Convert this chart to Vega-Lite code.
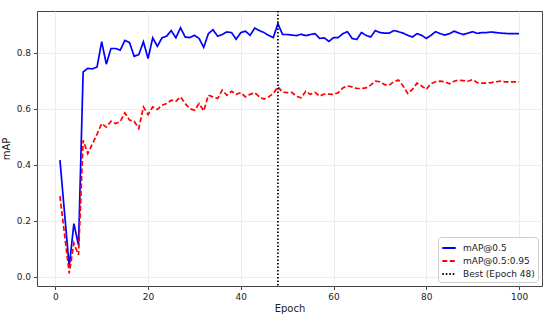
{
  "$schema": "https://vega.github.io/schema/vega-lite/v6.json",
  "width": 505,
  "height": 275,
  "autosize": {"type": "none"},
  "padding": {"left": 37, "top": 11, "right": 8, "bottom": 31},
  "background": "white",
  "config": {
    "font": "DejaVu Sans",
    "view": {"stroke": "#444", "strokeWidth": 1},
    "axis": {"labelFont": "DejaVu Sans", "titleFont": "DejaVu Sans", "labelFontSize": 9, "titleFontSize": 10, "titleFontWeight": "normal", "labelColor": "#222", "titleColor": "#222", "gridColor": "#e8e8e8", "gridWidth": 0.8, "domain": false, "tickColor": "#444", "tickSize": 3.5},
    "legend": {"title": null, "orient": "bottom-right", "offset": 4, "symbolType": "stroke", "symbolStrokeWidth": 1.8, "symbolSize": 180, "labelFontSize": 9, "labelFont": "DejaVu Sans", "labelColor": "#222", "labelOffset": 6, "strokeColor": "#cccccc", "fillColor": "white", "padding": 3, "cornerRadius": 3, "rowPadding": 0}
  },
  "datasets": {
    "curves": [
      {"epoch":1,"s":"mAP@0.5","v":0.417},{"epoch":2,"s":"mAP@0.5","v":0.226},{"epoch":3,"s":"mAP@0.5","v":0.036},{"epoch":4,"s":"mAP@0.5","v":0.19},{"epoch":5,"s":"mAP@0.5","v":0.113},
      {"epoch":6,"s":"mAP@0.5","v":0.732},{"epoch":7,"s":"mAP@0.5","v":0.745},{"epoch":8,"s":"mAP@0.5","v":0.743},{"epoch":9,"s":"mAP@0.5","v":0.75},{"epoch":10,"s":"mAP@0.5","v":0.84},
      {"epoch":11,"s":"mAP@0.5","v":0.76},{"epoch":12,"s":"mAP@0.5","v":0.816},{"epoch":13,"s":"mAP@0.5","v":0.816},{"epoch":14,"s":"mAP@0.5","v":0.81},{"epoch":15,"s":"mAP@0.5","v":0.845},
      {"epoch":16,"s":"mAP@0.5","v":0.837},{"epoch":17,"s":"mAP@0.5","v":0.788},{"epoch":18,"s":"mAP@0.5","v":0.794},{"epoch":19,"s":"mAP@0.5","v":0.84},{"epoch":20,"s":"mAP@0.5","v":0.78},
      {"epoch":21,"s":"mAP@0.5","v":0.854},{"epoch":22,"s":"mAP@0.5","v":0.824},{"epoch":23,"s":"mAP@0.5","v":0.854},{"epoch":24,"s":"mAP@0.5","v":0.86},{"epoch":25,"s":"mAP@0.5","v":0.88},
      {"epoch":26,"s":"mAP@0.5","v":0.854},{"epoch":27,"s":"mAP@0.5","v":0.89},{"epoch":28,"s":"mAP@0.5","v":0.857},{"epoch":29,"s":"mAP@0.5","v":0.855},{"epoch":30,"s":"mAP@0.5","v":0.863},
      {"epoch":31,"s":"mAP@0.5","v":0.852},{"epoch":32,"s":"mAP@0.5","v":0.82},{"epoch":33,"s":"mAP@0.5","v":0.869},{"epoch":34,"s":"mAP@0.5","v":0.883},{"epoch":35,"s":"mAP@0.5","v":0.86},
      {"epoch":36,"s":"mAP@0.5","v":0.866},{"epoch":37,"s":"mAP@0.5","v":0.875},{"epoch":38,"s":"mAP@0.5","v":0.873},{"epoch":39,"s":"mAP@0.5","v":0.849},{"epoch":40,"s":"mAP@0.5","v":0.873},
      {"epoch":41,"s":"mAP@0.5","v":0.878},{"epoch":42,"s":"mAP@0.5","v":0.863},{"epoch":43,"s":"mAP@0.5","v":0.889},{"epoch":44,"s":"mAP@0.5","v":0.88},{"epoch":45,"s":"mAP@0.5","v":0.873},
      {"epoch":46,"s":"mAP@0.5","v":0.863},{"epoch":47,"s":"mAP@0.5","v":0.855},{"epoch":48,"s":"mAP@0.5","v":0.905},{"epoch":49,"s":"mAP@0.5","v":0.866},{"epoch":50,"s":"mAP@0.5","v":0.866},
      {"epoch":51,"s":"mAP@0.5","v":0.864},{"epoch":52,"s":"mAP@0.5","v":0.862},{"epoch":53,"s":"mAP@0.5","v":0.867},{"epoch":54,"s":"mAP@0.5","v":0.862},{"epoch":55,"s":"mAP@0.5","v":0.866},
      {"epoch":56,"s":"mAP@0.5","v":0.869},{"epoch":57,"s":"mAP@0.5","v":0.852},{"epoch":58,"s":"mAP@0.5","v":0.854},{"epoch":59,"s":"mAP@0.5","v":0.841},{"epoch":60,"s":"mAP@0.5","v":0.855},
      {"epoch":61,"s":"mAP@0.5","v":0.855},{"epoch":62,"s":"mAP@0.5","v":0.869},{"epoch":63,"s":"mAP@0.5","v":0.876},{"epoch":64,"s":"mAP@0.5","v":0.852},{"epoch":65,"s":"mAP@0.5","v":0.848},
      {"epoch":66,"s":"mAP@0.5","v":0.873},{"epoch":67,"s":"mAP@0.5","v":0.863},{"epoch":68,"s":"mAP@0.5","v":0.857},{"epoch":69,"s":"mAP@0.5","v":0.88},{"epoch":70,"s":"mAP@0.5","v":0.873},
      {"epoch":71,"s":"mAP@0.5","v":0.871},{"epoch":72,"s":"mAP@0.5","v":0.871},{"epoch":73,"s":"mAP@0.5","v":0.88},{"epoch":74,"s":"mAP@0.5","v":0.876},{"epoch":75,"s":"mAP@0.5","v":0.871},
      {"epoch":76,"s":"mAP@0.5","v":0.863},{"epoch":77,"s":"mAP@0.5","v":0.857},{"epoch":78,"s":"mAP@0.5","v":0.869},{"epoch":79,"s":"mAP@0.5","v":0.863},{"epoch":80,"s":"mAP@0.5","v":0.852},
      {"epoch":81,"s":"mAP@0.5","v":0.863},{"epoch":82,"s":"mAP@0.5","v":0.876},{"epoch":83,"s":"mAP@0.5","v":0.869},{"epoch":84,"s":"mAP@0.5","v":0.864},{"epoch":85,"s":"mAP@0.5","v":0.869},
      {"epoch":86,"s":"mAP@0.5","v":0.878},{"epoch":87,"s":"mAP@0.5","v":0.871},{"epoch":88,"s":"mAP@0.5","v":0.866},{"epoch":89,"s":"mAP@0.5","v":0.871},{"epoch":90,"s":"mAP@0.5","v":0.876},
      {"epoch":91,"s":"mAP@0.5","v":0.87},{"epoch":92,"s":"mAP@0.5","v":0.873},{"epoch":93,"s":"mAP@0.5","v":0.873},{"epoch":94,"s":"mAP@0.5","v":0.875},{"epoch":95,"s":"mAP@0.5","v":0.873},
      {"epoch":96,"s":"mAP@0.5","v":0.871},{"epoch":97,"s":"mAP@0.5","v":0.87},{"epoch":98,"s":"mAP@0.5","v":0.869},{"epoch":99,"s":"mAP@0.5","v":0.869},{"epoch":100,"s":"mAP@0.5","v":0.869},
      {"epoch":1,"s":"mAP@0.5:0.95","v":0.288},{"epoch":2,"s":"mAP@0.5:0.95","v":0.15},{"epoch":3,"s":"mAP@0.5:0.95","v":0.012},{"epoch":4,"s":"mAP@0.5:0.95","v":0.12},{"epoch":5,"s":"mAP@0.5:0.95","v":0.078},
      {"epoch":6,"s":"mAP@0.5:0.95","v":0.488},{"epoch":7,"s":"mAP@0.5:0.95","v":0.44},{"epoch":8,"s":"mAP@0.5:0.95","v":0.475},{"epoch":9,"s":"mAP@0.5:0.95","v":0.51},{"epoch":10,"s":"mAP@0.5:0.95","v":0.548},
      {"epoch":11,"s":"mAP@0.5:0.95","v":0.535},{"epoch":12,"s":"mAP@0.5:0.95","v":0.556},{"epoch":13,"s":"mAP@0.5:0.95","v":0.548},{"epoch":14,"s":"mAP@0.5:0.95","v":0.555},{"epoch":15,"s":"mAP@0.5:0.95","v":0.586},
      {"epoch":16,"s":"mAP@0.5:0.95","v":0.56},{"epoch":17,"s":"mAP@0.5:0.95","v":0.556},{"epoch":18,"s":"mAP@0.5:0.95","v":0.53},{"epoch":19,"s":"mAP@0.5:0.95","v":0.607},{"epoch":20,"s":"mAP@0.5:0.95","v":0.58},
      {"epoch":21,"s":"mAP@0.5:0.95","v":0.607},{"epoch":22,"s":"mAP@0.5:0.95","v":0.598},{"epoch":23,"s":"mAP@0.5:0.95","v":0.613},{"epoch":24,"s":"mAP@0.5:0.95","v":0.619},{"epoch":25,"s":"mAP@0.5:0.95","v":0.631},
      {"epoch":26,"s":"mAP@0.5:0.95","v":0.627},{"epoch":27,"s":"mAP@0.5:0.95","v":0.643},{"epoch":28,"s":"mAP@0.5:0.95","v":0.619},{"epoch":29,"s":"mAP@0.5:0.95","v":0.601},{"epoch":30,"s":"mAP@0.5:0.95","v":0.595},
      {"epoch":31,"s":"mAP@0.5:0.95","v":0.619},{"epoch":32,"s":"mAP@0.5:0.95","v":0.593},{"epoch":33,"s":"mAP@0.5:0.95","v":0.649},{"epoch":34,"s":"mAP@0.5:0.95","v":0.643},{"epoch":35,"s":"mAP@0.5:0.95","v":0.637},
      {"epoch":36,"s":"mAP@0.5:0.95","v":0.667},{"epoch":37,"s":"mAP@0.5:0.95","v":0.649},{"epoch":38,"s":"mAP@0.5:0.95","v":0.663},{"epoch":39,"s":"mAP@0.5:0.95","v":0.652},{"epoch":40,"s":"mAP@0.5:0.95","v":0.658},
      {"epoch":41,"s":"mAP@0.5:0.95","v":0.643},{"epoch":42,"s":"mAP@0.5:0.95","v":0.652},{"epoch":43,"s":"mAP@0.5:0.95","v":0.658},{"epoch":44,"s":"mAP@0.5:0.95","v":0.643},{"epoch":45,"s":"mAP@0.5:0.95","v":0.635},
      {"epoch":46,"s":"mAP@0.5:0.95","v":0.643},{"epoch":47,"s":"mAP@0.5:0.95","v":0.655},{"epoch":48,"s":"mAP@0.5:0.95","v":0.679},{"epoch":49,"s":"mAP@0.5:0.95","v":0.66},{"epoch":50,"s":"mAP@0.5:0.95","v":0.658},
      {"epoch":51,"s":"mAP@0.5:0.95","v":0.659},{"epoch":52,"s":"mAP@0.5:0.95","v":0.645},{"epoch":53,"s":"mAP@0.5:0.95","v":0.64},{"epoch":54,"s":"mAP@0.5:0.95","v":0.663},{"epoch":55,"s":"mAP@0.5:0.95","v":0.652},
      {"epoch":56,"s":"mAP@0.5:0.95","v":0.659},{"epoch":57,"s":"mAP@0.5:0.95","v":0.646},{"epoch":58,"s":"mAP@0.5:0.95","v":0.653},{"epoch":59,"s":"mAP@0.5:0.95","v":0.653},{"epoch":60,"s":"mAP@0.5:0.95","v":0.652},
      {"epoch":61,"s":"mAP@0.5:0.95","v":0.658},{"epoch":62,"s":"mAP@0.5:0.95","v":0.675},{"epoch":63,"s":"mAP@0.5:0.95","v":0.682},{"epoch":64,"s":"mAP@0.5:0.95","v":0.679},{"epoch":65,"s":"mAP@0.5:0.95","v":0.673},
      {"epoch":66,"s":"mAP@0.5:0.95","v":0.673},{"epoch":67,"s":"mAP@0.5:0.95","v":0.675},{"epoch":68,"s":"mAP@0.5:0.95","v":0.685},{"epoch":69,"s":"mAP@0.5:0.95","v":0.699},{"epoch":70,"s":"mAP@0.5:0.95","v":0.697},
      {"epoch":71,"s":"mAP@0.5:0.95","v":0.687},{"epoch":72,"s":"mAP@0.5:0.95","v":0.685},{"epoch":73,"s":"mAP@0.5:0.95","v":0.697},{"epoch":74,"s":"mAP@0.5:0.95","v":0.703},{"epoch":75,"s":"mAP@0.5:0.95","v":0.682},
      {"epoch":76,"s":"mAP@0.5:0.95","v":0.655},{"epoch":77,"s":"mAP@0.5:0.95","v":0.67},{"epoch":78,"s":"mAP@0.5:0.95","v":0.692},{"epoch":79,"s":"mAP@0.5:0.95","v":0.682},{"epoch":80,"s":"mAP@0.5:0.95","v":0.67},
      {"epoch":81,"s":"mAP@0.5:0.95","v":0.69},{"epoch":82,"s":"mAP@0.5:0.95","v":0.697},{"epoch":83,"s":"mAP@0.5:0.95","v":0.699},{"epoch":84,"s":"mAP@0.5:0.95","v":0.697},{"epoch":85,"s":"mAP@0.5:0.95","v":0.69},
      {"epoch":86,"s":"mAP@0.5:0.95","v":0.699},{"epoch":87,"s":"mAP@0.5:0.95","v":0.703},{"epoch":88,"s":"mAP@0.5:0.95","v":0.701},{"epoch":89,"s":"mAP@0.5:0.95","v":0.699},{"epoch":90,"s":"mAP@0.5:0.95","v":0.705},
      {"epoch":91,"s":"mAP@0.5:0.95","v":0.694},{"epoch":92,"s":"mAP@0.5:0.95","v":0.692},{"epoch":93,"s":"mAP@0.5:0.95","v":0.692},{"epoch":94,"s":"mAP@0.5:0.95","v":0.694},{"epoch":95,"s":"mAP@0.5:0.95","v":0.697},
      {"epoch":96,"s":"mAP@0.5:0.95","v":0.699},{"epoch":97,"s":"mAP@0.5:0.95","v":0.697},{"epoch":98,"s":"mAP@0.5:0.95","v":0.697},{"epoch":99,"s":"mAP@0.5:0.95","v":0.697},{"epoch":100,"s":"mAP@0.5:0.95","v":0.697}
    ],
    "best": [{"epoch": 48, "s": "Best (Epoch 48)"}]
  },
  "layer": [
    {
      "data": {"name": "curves"},
      "mark": {"type": "line", "strokeWidth": 1.7, "clip": true},
      "encoding": {
        "x": {"field": "epoch", "type": "quantitative", "scale": {"domain": [-3.95, 104.95], "nice": false, "zero": false}, "axis": {"values": [0, 20, 40, 60, 80, 100], "title": "Epoch", "titlePadding": 2, "labelPadding": 3}},
        "y": {"field": "v", "type": "quantitative", "scale": {"domain": [-0.033, 0.95], "nice": false, "zero": false}, "axis": {"values": [0, 0.2, 0.4, 0.6, 0.8], "format": ".1f", "title": "mAP", "titlePadding": 5, "labelPadding": 3}},
        "color": {"field": "s", "type": "nominal", "scale": {"domain": ["mAP@0.5", "mAP@0.5:0.95", "Best (Epoch 48)"], "range": ["#0000ff", "#ff0000", "#000000"]}},
        "strokeDash": {"field": "s", "type": "nominal", "scale": {"domain": ["mAP@0.5", "mAP@0.5:0.95", "Best (Epoch 48)"], "range": [[1, 0], [5, 2.5], [1.5, 2]]}}
      }
    },
    {
      "data": {"name": "best"},
      "mark": {"type": "rule", "strokeWidth": 1.7},
      "encoding": {
        "x": {"field": "epoch", "type": "quantitative"},
        "color": {"field": "s", "type": "nominal"},
        "strokeDash": {"field": "s", "type": "nominal"}
      }
    }
  ]
}
